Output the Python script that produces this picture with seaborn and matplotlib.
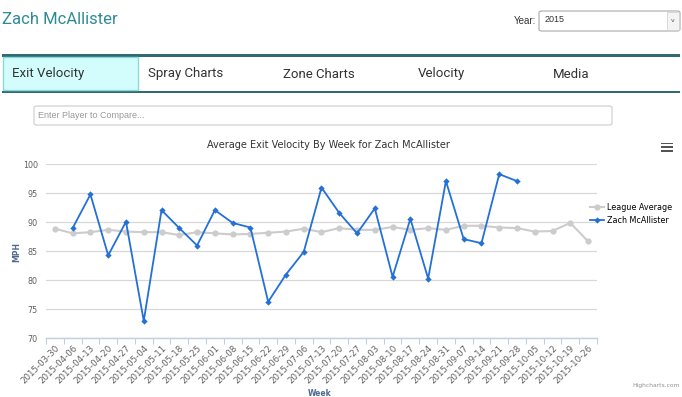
import numpy as np
import pandas as pd
import matplotlib
matplotlib.use("Agg")
import matplotlib.pyplot as plt
from matplotlib.patches import Rectangle, FancyBboxPatch
import seaborn as sns

weeks = ["2015-03-30", "2015-04-06", "2015-04-13", "2015-04-20", "2015-04-27",
         "2015-05-04", "2015-05-11", "2015-05-18", "2015-05-25", "2015-06-01",
         "2015-06-08", "2015-06-15", "2015-06-22", "2015-06-29", "2015-07-06",
         "2015-07-13", "2015-07-20", "2015-07-27", "2015-08-03", "2015-08-10",
         "2015-08-17", "2015-08-24", "2015-08-31", "2015-09-07", "2015-09-14",
         "2015-09-21", "2015-09-28", "2015-10-05", "2015-10-12", "2015-10-19",
         "2015-10-26"]
league_avg = [88.9, 88.1, 88.3, 88.7, 88.4, 88.3, 88.3, 87.8, 88.3, 88.1,
              87.9, 88.0, 88.2, 88.4, 88.9, 88.3, 89.0, 88.7, 88.7, 89.2,
              88.7, 89.0, 88.7, 89.4, 89.4, 89.1, 89.0, 88.4, 88.5, 89.9,
              86.7]
player = [np.nan, 89.0, 94.8, 84.3, 90.1, 73.0, 92.1, 89.0, 86.0, 92.1,
          89.9, 89.1, 76.3, 81.0, 84.9, 96.0, 91.6, 88.1, 92.4, 80.6,
          90.6, 80.3, 97.1, 87.1, 86.4, 98.3, 97.1, np.nan, np.nan, np.nan,
          np.nan]
player_name = "Zach McAllister"
tabs = ["Exit Velocity", "Spray Charts", "Zone Charts", "Velocity", "Media"]

W, H = 682, 397
fig = plt.figure(figsize=(W / 100, H / 100), dpi=100)
fig.patch.set_facecolor("white")


def fx(x):
    return x / W


def fy(y):
    return 1 - y / H


def ptext(x, y, s, **kw):
    fig.text(fx(x), fy(y), s, **kw)


def prect(x0, y0, x1, y1, **kw):
    fig.patches.append(Rectangle((fx(x0), fy(y1)), fx(x1) - fx(x0), fy(y0) - fy(y1),
                                 transform=fig.transFigure, figure=fig, **kw))


narrow = ["Roboto", "DejaVu Sans"]

# page header
ptext(2, 20, player_name, color="#2e8b96", fontsize=12, family=narrow, va="center")
ptext(536, 21, "Year:", color="#333333", fontsize=7, family="Liberation Sans", va="center", ha="right")
fig.patches.append(FancyBboxPatch((fx(539), fy(31)), fx(141), 20 / H,
                                  boxstyle="round,pad=0,rounding_size=0.004",
                                  transform=fig.transFigure, figure=fig,
                                  facecolor="white", edgecolor="#aaaaaa", lw=0.8))
prect(667, 12, 679, 30, facecolor="#f4f4f4", edgecolor="#cccccc", lw=0.5)
ptext(673, 21, "v", color="#555555", fontsize=4.5, family="DejaVu Sans", va="center", ha="center")
ptext(545, 20, "2015", color="#333333", fontsize=6.5, family="Liberation Sans", va="center")

# tab bar
prect(2, 53.5, 680, 54.5, facecolor="#b8c4c4", lw=0)
prect(2, 54.5, 680, 56.5, facecolor="#2f6b70", lw=0)
prect(2, 90.5, 680, 92.5, facecolor="#2f6b70", lw=0)
prect(3, 57, 137.5, 90, facecolor="#d3fdfd", edgecolor="#8fd8d8", lw=1.0)
tab_x = [12, 148, 283, 418, 553]
for tx, name in zip(tab_x, tabs):
    ptext(tx, 74, name, color="#333333", fontsize=9.5, family=narrow, va="center")

# compare input
fig.patches.append(FancyBboxPatch((fx(34), fy(125)), fx(578), 19 / H,
                                  boxstyle="round,pad=0,rounding_size=0.004",
                                  transform=fig.transFigure, figure=fig,
                                  facecolor="white", edgecolor="#cccccc", lw=0.8))
ptext(38, 116, "Enter Player to Compare...", color="#999999", fontsize=6.5,
      family="Liberation Sans", va="center")

# chart
ax = fig.add_axes([fx(46), fy(338.3), fx(597) - fx(46), fy(164.3) - fy(338.3)])
x_pos = np.arange(len(weeks))
df = pd.DataFrame({"pos": x_pos, "League Average": league_avg, player_name: player})

sns.lineplot(data=df, x="pos", y="League Average", ax=ax, color="#cccccc",
             lw=1.5, marker="o", markersize=4.5, markeredgewidth=0, label="League Average")
sns.lineplot(data=df.dropna(), x="pos", y=player_name, ax=ax, color="#2370d7",
             lw=1.3, marker="D", markersize=3.2, markeredgewidth=0, label=player_name)

ax.set_xlim(-0.5, len(weeks) - 0.5)
ax.set_ylim(70, 100)
ax.set_yticks(range(70, 101, 5))
ax.grid(axis="y", color="#d8d8d8", lw=0.9)
ax.set_axisbelow(True)
for side in ["top", "right", "left"]:
    ax.spines[side].set_visible(False)
ax.spines["bottom"].set_color("#c0d0e0")
ax.spines["bottom"].set_linewidth(1.0)

ax.set_xticks(x_pos)
ax.set_xticklabels(weeks, rotation=45, ha="right", va="top", rotation_mode="anchor")
ax.set_xticks(np.arange(len(weeks) + 1) - 0.5, minor=True)
ax.tick_params(axis="x", which="major", length=0, pad=4, labelsize=6.2, labelcolor="#606060")
ax.tick_params(axis="x", which="minor", length=4, color="#c0d0e0", width=0.8)
ax.tick_params(axis="y", length=0, pad=6, labelsize=5.8, labelcolor="#606060")

ax.set_xlabel("")
ax.set_ylabel("")
ptext(17, 252, "MPH", color="#4d6a8e", fontsize=5.5, fontweight="bold", rotation=90,
      va="center", ha="center")
ptext(320, 393, "Week", color="#4d6a8e", fontsize=5.5, fontweight="bold",
      va="center", ha="center")

ax.legend(loc="upper left", bbox_to_anchor=(fx(590), fy(203)), bbox_transform=fig.transFigure,
          frameon=False, fontsize=5.8, handlelength=1.7, handletextpad=0.4,
          labelspacing=0.45, borderaxespad=0, borderpad=0)

ptext(328, 145, "Average Exit Velocity By Week for " + player_name, color="#333333",
      fontsize=7, ha="center", va="center")

# hamburger
for yy in [143.5, 147, 150.5]:
    prect(661, yy - 1, 673, yy + 1, facecolor="#555555", lw=0)

ptext(680, 385, "Highcharts.com", color="#909090", fontsize=4.3, ha="right", va="center")

fig.savefig("out.png", dpi=100, facecolor="white")
